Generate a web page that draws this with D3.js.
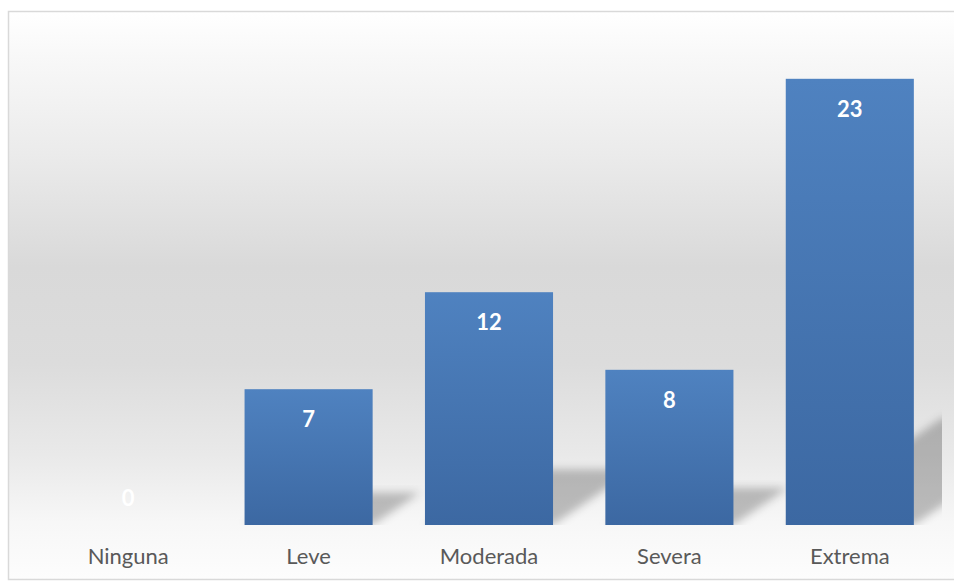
<!DOCTYPE html>
<html>
<head>
<meta charset="utf-8">
<script src="https://cdn.jsdelivr.net/npm/d3@7"></script>
<style>
  html, body { margin: 0; padding: 0; background: #ffffff; }
  svg { display: block; }
  .cat-axis text { font-family: Lato, "Open Sans", sans-serif; font-size: 22px; fill: #595959; }
  .value-label { font-family: Lato, "Open Sans", sans-serif; font-size: 22px; font-weight: 700; fill: #ffffff; }
</style>
</head>
<body>
<div id="chart"></div>
<script>
// Chart data
const categories = ["Ninguna", "Leve", "Moderada", "Severa", "Extrema"];
const counts = [0, 7, 12, 8, 23];
const yDomainMax = 25;

const W = 954, H = 581;
const frame = { left: 8.5, top: 11.5, right: 960, bottom: 579.5 };
const plot = { left: 38, right: 940, top: 40, bottom: 525 };

const svg = d3.select("#chart").append("svg")
    .attr("width", W)
    .attr("height", H);

const defs = svg.append("defs");

// Chart background: vertical grey gradient
const bg = defs.append("linearGradient")
    .attr("id", "bg-grad")
    .attr("x1", 0).attr("y1", 0).attr("x2", 0).attr("y2", 1);
[[0, "#ffffff"], [0.08, "#f8f8f8"], [0.25, "#ebebeb"], [0.45, "#d9d9d9"], [0.62, "#dcdcdc"],
 [0.78, "#e9e9e9"], [0.9, "#f7f7f7"], [1, "#fdfdfd"]]
    .forEach(([o, c]) => bg.append("stop").attr("offset", o).attr("stop-color", c));

// Bar fill gradient
const barGrad = defs.append("linearGradient")
    .attr("id", "bar-grad")
    .attr("x1", 0).attr("y1", 0).attr("x2", 0).attr("y2", 1);
barGrad.append("stop").attr("offset", 0).attr("stop-color", "#4f82c0");
barGrad.append("stop").attr("offset", 1).attr("stop-color", "#3c68a2");

// Soft shadow blur
defs.append("filter")
    .attr("id", "shadow-blur")
    .attr("x", "-20%").attr("y", "-20%").attr("width", "140%").attr("height", "140%")
    .append("feGaussianBlur")
    .attr("stdDeviation", 4);

defs.append("clipPath")
    .attr("id", "plot-clip")
    .append("rect")
    .attr("x", 10).attr("y", 0)
    .attr("width", 932).attr("height", plot.bottom);

svg.append("rect")
    .attr("x", frame.left)
    .attr("y", frame.top)
    .attr("width", frame.right - frame.left)
    .attr("height", frame.bottom - frame.top)
    .attr("fill", "url(#bg-grad)")
    .attr("stroke", "#d9d9d9")
    .attr("stroke-width", 1.5);

// Scales
const x = d3.scaleBand()
    .domain(categories)
    .range([plot.left, plot.right])
    .paddingInner(0.29)
    .paddingOuter(0.145);

const y = d3.scaleLinear()
    .domain([0, yDomainMax])
    .range([plot.bottom, plot.top]);

const data = categories.map((c, i) => ({ category: c, value: counts[i] }));

// Perspective shadows behind the bars
svg.append("g")
    .attr("clip-path", "url(#plot-clip)")
    .selectAll("path")
    .data(data.filter(d => d.value > 0))
    .enter()
    .append("path")
    .attr("d", d => {
        const x0 = x(d.category), x1 = x0 + x.bandwidth();
        const h = y(0) - y(d.value);
        const dx = 0.35 * h, dy = 0.24 * h;
        const b = y(0);
        return `M${x0},${b}L${x1},${b}L${x1 + dx},${b - dy}L${x0 + dx},${b - dy}Z`;
    })
    .attr("fill", "#000000")
    .attr("fill-opacity", 0.24)
    .attr("filter", "url(#shadow-blur)");

// Bars
svg.selectAll(".bar")
    .data(data)
    .enter()
    .append("rect")
    .attr("class", "bar")
    .attr("x", d => x(d.category))
    .attr("y", d => y(d.value))
    .attr("width", x.bandwidth())
    .attr("height", d => y(0) - y(d.value))
    .attr("fill", "url(#bar-grad)");

// Value labels (inside end)
svg.selectAll(".value-label")
    .data(data)
    .enter()
    .append("text")
    .attr("class", "value-label")
    .attr("x", d => x(d.category) + x.bandwidth() / 2)
    .attr("y", d => d.value > 0 ? y(d.value) + 30 : y(0) - 27)
    .attr("dy", "0.35em")
    .attr("text-anchor", "middle")
    .text(d => d.value);

// Category axis
const axis = svg.append("g")
    .attr("class", "cat-axis")
    .attr("transform", `translate(0,${plot.bottom})`)
    .call(d3.axisBottom(x).tickSize(0).tickPadding(23));
axis.select(".domain").remove();
</script>
</body>
</html>
